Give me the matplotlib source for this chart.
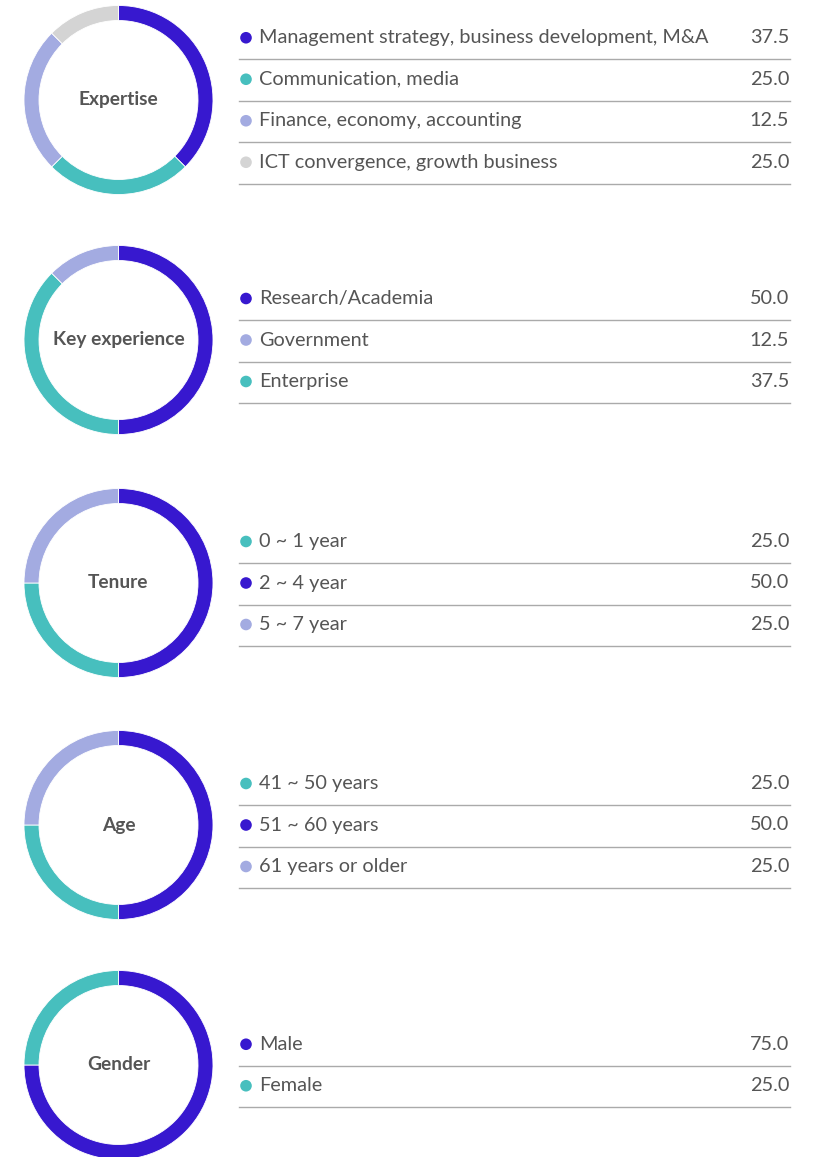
import matplotlib
matplotlib.use("Agg")
import matplotlib.pyplot as plt
from matplotlib.patches import Circle

# ---------------- data ----------------
titles = ["Expertise", "Key experience", "Tenure", "Age", "Gender"]

expertise_labels = ["Management strategy, business development, M&A",
                    "Communication, media", "Finance, economy, accounting",
                    "ICT convergence, growth business"]
expertise_values = [37.5, 25.0, 12.5, 25.0]
# ring as drawn in the reference (blue, teal, lavender, grey)
expertise_ring = [37.5, 25.0, 25.0, 12.5]

keyexp_labels = ["Research/Academia", "Government", "Enterprise"]
keyexp_values = [50.0, 12.5, 37.5]
keyexp_ring = [50.0, 37.5, 12.5]

tenure_labels = ["0 ~ 1 year", "2 ~ 4 year", "5 ~ 7 year"]
tenure_values = [25.0, 50.0, 25.0]
tenure_ring = [50.0, 25.0, 25.0]

age_labels = ["41 ~ 50 years", "51 ~ 60 years", "61 years or older"]
age_values = [25.0, 50.0, 25.0]
age_ring = [50.0, 25.0, 25.0]

gender_labels = ["Male", "Female"]
gender_values = [75.0, 25.0]
gender_ring = [75.0, 25.0]

BLUE, TEAL, LAV, GREY = "#3718cf", "#47bfbe", "#a3abe1", "#d4d4d4"

blocks = [
    dict(title=titles[0], labels=expertise_labels, values=expertise_values,
         colors=[BLUE, TEAL, LAV, GREY], ring=expertise_ring,
         ring_colors=[BLUE, TEAL, LAV, GREY]),
    dict(title=titles[1], labels=keyexp_labels, values=keyexp_values,
         colors=[BLUE, LAV, TEAL], ring=keyexp_ring,
         ring_colors=[BLUE, TEAL, LAV]),
    dict(title=titles[2], labels=tenure_labels, values=tenure_values,
         colors=[TEAL, BLUE, LAV], ring=tenure_ring,
         ring_colors=[BLUE, TEAL, LAV]),
    dict(title=titles[3], labels=age_labels, values=age_values,
         colors=[TEAL, BLUE, LAV], ring=age_ring,
         ring_colors=[BLUE, TEAL, LAV]),
    dict(title=titles[4], labels=gender_labels, values=gender_values,
         colors=[BLUE, TEAL], ring=gender_ring,
         ring_colors=[BLUE, TEAL]),
]

# ---------------- layout ----------------
W, H = 818, 1157
centers_y = [100, 340, 583, 825, 1065]
cx, R, ring_w = 118.5, 94.5, 15
row_h = 41.5
x_line0, x_line1 = 239, 790
x_dot, x_text, x_val = 246, 259, 789
TXT = "#555555"

plt.rcParams['font.family'] = ['Lato', 'DejaVu Sans']

fig = plt.figure(figsize=(W / 100, H / 100), dpi=100)
ax = fig.add_axes([0, 0, 1, 1])
ax.set_xlim(0, W)
ax.set_ylim(0, H)
ax.set_aspect("equal")
ax.axis("off")

for b, cy_px in zip(blocks, centers_y):
    cy = H - cy_px
    ax.pie(b["ring"], colors=b["ring_colors"], center=(cx, cy), radius=R,
           startangle=90, counterclock=False,
           wedgeprops=dict(width=ring_w, linewidth=0.6, edgecolor="white"))
    ax.text(cx, cy, b["title"], ha="center", va="center", fontsize=13.8,
            fontweight="bold", color=TXT)
    n = len(b["labels"])
    for i, (lab, val, col) in enumerate(zip(b["labels"], b["values"], b["colors"])):
        ry = cy - (i - (n - 1) / 2) * row_h
        ax.add_patch(Circle((x_dot, ry), 5.8, color=col, lw=0))
        ax.text(x_text, ry, lab, ha="left", va="center", fontsize=14.3, color=TXT)
        ax.text(x_val, ry, f"{val:.1f}", ha="right", va="center", fontsize=14.3, color=TXT)
        ly = ry - 21.5
        ax.plot([x_line0, x_line1], [ly, ly], color="#aaaaaa", lw=1.0)

ax.set_xlim(0, W)
ax.set_ylim(0, H)
fig.savefig("out.png", dpi=100)
